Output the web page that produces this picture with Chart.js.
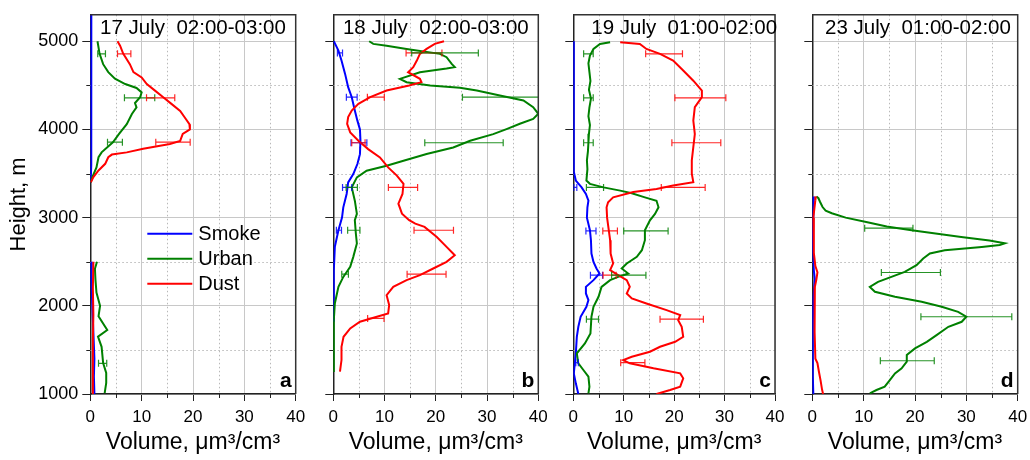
<!DOCTYPE html>
<html>
<head>
<meta charset="utf-8">
<script src="https://cdn.jsdelivr.net/npm/chart.js@4.4.0/dist/chart.umd.min.js"></script>
<style>
  body { margin: 0; background: #fff; width: 1030px; height: 460px; position: relative; overflow: hidden; }
  canvas { position: absolute; top: 0; }
</style>
</head>
<body>
<canvas id="pa" width="314" height="460" style="left:0px"></canvas>
<canvas id="pb" width="254" height="460" style="left:300px"></canvas>
<canvas id="pc" width="249" height="460" style="left:545px"></canvas>
<canvas id="pd" width="249" height="460" style="left:785px"></canvas>
<script>
const seriesNames = ['Smoke', 'Urban', 'Dust'];
const panelTitles = ['17 July  02:00-03:00', '18 July  02:00-03:00', '19 July  01:00-02:00', '23 July  01:00-02:00'];
const panelLetters = ['a', 'b', 'c', 'd'];
const xTickValues = [0, 5, 10, 15, 20, 25, 30, 35, 40];
const xTickLabels = [0, 10, 20, 30, 40];
const yTickValues = [1000, 1500, 2000, 2500, 3000, 3500, 4000, 4500, 5000];
const yTickLabels = [1000, 2000, 3000, 4000, 5000];

// ---- panel a : 17 July (null = gap in the profile)
const hSmokeA = [5300, 5000, 4500, 4000, 3600, 3450, 3400, null, 2500, 2300, 2000, 1700, 1400, 1200, 1000];
const vSmokeA = [0.2, 0.2, 0.2, 0.2, 0.15, 0.1, 0.0, null, 0.3, 0.2, 0.4, 0.6, 0.8, 0.7, 0.8];
const hUrbanA = [5000, 4860, 4740, 4650, 4575, 4515, 4470, 4420, 4365, 4300, 4250, 4175, 4060, 3950, 3855, 3740, 3685, 3570, 3460, 3400, null,
                 2500, 2420, 2300, 2150, 2000, 1880, 1725, 1650, 1535, 1350, 1240, 1125, 1010];
const vUrbanA = [1.4, 1.8, 2.5, 3.5, 4.8, 6.8, 9.0, 10.0, 9.7, 8.7, 9.0, 8.1, 7.1, 5.6, 4.4, 2.2, 1.6, 1.2, 0.4, 0.1, null,
                 1.3, 0.9, 1.0, 1.2, 1.9, 1.6, 3.3, 1.5, 2.2, 2.5, 3.1, 3.1, 2.8];
const hDustA = [5000, 4950, 4860, 4740, 4650, 4590, 4515, 4440, 4365, 4290, 4210, 4135, 4060, 4000, 3950, 3870, 3835, 3780, 3740, 3715, 3685, 3610, 3535, 3460, 3400, null,
                2500, 2200, 1900, 1600, 1300, 1000];
const vDustA = [5.3, 5.8, 6.4, 7.7, 8.4, 10.0, 11.0, 12.6, 14.2, 15.8, 17.5, 18.4, 19.3, 19.4, 18.0, 17.5, 15.5, 10.3, 7.1, 4.2, 3.5, 2.9, 1.6, 0.6, 0.1, null,
                0.6, 0.5, 0.6, 0.5, 0.5, 0.5];
// error bars: [series, height, centre, half width]
const errA = [['Urban', 4857, 2.2, 0.75], ['Dust', 4857, 6.6, 1.3], ['Urban', 4358, 9.6, 2.95], ['Dust', 4358, 13.7, 2.75],
              ['Urban', 3856, 4.8, 1.45], ['Dust', 3856, 16.1, 3.35], ['Urban', 1348, 2.4, 0.8]];

// ---- panel b : 18 July
const hSmokeB = [5000, 4894, 4781, 4630, 4479, 4366, 4215, 4100, 4000, 3872, 3720, 3608, 3494, 3400, 3268, 3117, 3000, 2857, 2668, 2404, 2100, 1820];
const vSmokeB = [0.1, 1.0, 1.6, 2.3, 2.9, 3.6, 4.2, 4.7, 5.2, 5.3, 5.2, 4.7, 3.9, 2.9, 2.6, 1.95, 1.7, 1.0, 0.3, 0.1, 0.1, 0.1];
const hUrbanB = [5000, 4970, 4950, 4913, 4857, 4819, 4743, 4706, 4690, 4649, 4574, 4536, 4498, 4472, 4442, 4385, 4328, 4253, 4177, 4120, 4064, 4004,
                 3947, 3872, 3796, 3721, 3645, 3589, 3532, 3457, 3343, 3192, 3042, 2971, 2820, 2707, 2555, 2442, 2328, 2215, 2027, 1838, 1500, 1250];
const vUrbanB = [7.0, 7.8, 10.4, 14.3, 20.8, 22.1, 23.1, 23.7, 22.1, 16.9, 13.0, 14.3, 18.9, 24.7, 28.0, 32.5, 37.1, 39.0, 40.0, 39.0, 36.4, 33.8,
                 31.2, 26.7, 23.4, 18.2, 13.7, 10.4, 6.5, 4.6, 3.6, 4.2, 4.6, 4.2, 4.4, 4.6, 3.9, 3.3, 1.95, 1.0, 0.3, 0.1, 0.1, 0.1];
const hDustB = [5000, 4970, 4913, 4857, 4781, 4706, 4649, 4574, 4536, 4498, 4442, 4366, 4290, 4215, 4140, 4064, 3966, 3872, 3777, 3683, 3570, 3477,
                3383, 3268, 3158, 3045, 2971, 2932, 2895, 2781, 2668, 2574, 2498, 2423, 2348, 2291, 2215, 2121, 2008, 1914, 1876, 1819, 1744, 1649, 1536, 1385, 1253];
const vDustB = [21.6, 19.8, 18.2, 16.9, 16.3, 15.6, 14.6, 16.9, 17.2, 14.8, 10.4, 7.2, 4.9, 3.6, 2.9, 2.7, 3.3, 4.9, 6.8, 9.1, 10.7, 12.4,
                13.7, 13.5, 12.7, 13.4, 14.8, 16.0, 17.8, 20.2, 22.1, 23.7, 22.1, 19.5, 16.9, 14.3, 11.7, 10.4, 10.9, 10.7, 8.5, 5.2, 3.3, 2.0, 1.6, 1.6, 1.3];
const errB = [['Smoke', 4868, 1.3, 0.5], ['Dust', 4868, 17.7, 3.5], ['Urban', 4868, 21.8, 6.5],
              ['Smoke', 4366, 3.6, 1.05], ['Dust', 4366, 8.3, 1.65], ['Urban', 4366, 35.0, 9.8],
              ['Smoke', 3849, 5.0, 1.55], ['Dust', 3849, 4.9, 1.3], ['Urban', 3849, 25.5, 7.65],
              ['Smoke', 3343, 2.7, 0.9], ['Urban', 3343, 3.6, 1.1], ['Dust', 3343, 13.6, 2.85],
              ['Smoke', 2857, 1.1, 0.5], ['Urban', 2857, 4.0, 1.2], ['Dust', 2857, 19.6, 3.85],
              ['Urban', 2359, 2.3, 0.65], ['Dust', 2359, 18.2, 3.8], ['Dust', 1857, 8.3, 1.6]];

// ---- panel c : 19 July
const hSmokeC = [5000, 4500, 4000, 3600, 3520, 3420, 3343, 3268, 3192, 3117, 3000, 2857, 2744, 2593, 2498, 2423, 2366, 2291, 2215, 2140, 2065, 1989, 1876, 1762, 1649, 1461, 1348, 1234, 1121, 1000];
const vSmokeC = [0.1, 0.1, 0.1, 0.1, 0.1, 0.5, 1.65, 2.5, 3.0, 2.8, 2.7, 3.3, 3.5, 3.6, 4.0, 4.6, 5.2, 4.0, 2.5, 2.5, 3.0, 2.6, 1.45, 1.0, 0.7, 0.5, 0.3, 0.1, 0.5, 1.0];
const hUrbanC = [4989, 4970, 4913, 4838, 4750, 4650, 4550, 4450, 4350, 4250, 4150, 4050, 3950, 3850, 3750, 3650, 3550, 3420, 3383, 3343, 3306, 3276, 3230, 3192,
                 3117, 3042, 2970, 2857, 2744, 2631, 2555, 2480, 2423, 2366, 2328, 2291, 2215, 2102, 1989, 1876, 1687, 1574, 1461, 1348, 1272, 1196, 1083, 1008];
const vUrbanC = [7.3, 5.3, 4.0, 3.3, 3.0, 3.2, 3.4, 3.1, 3.5, 3.2, 3.0, 3.3, 3.1, 3.0, 2.9, 2.7, 2.8, 2.6, 3.3, 6.0, 9.3, 11.6, 14.2, 16.5,
                 16.9, 16.2, 15.2, 14.2, 14.2, 13.6, 12.6, 10.6, 9.6, 10.9, 8.9, 7.3, 5.6, 5.0, 4.0, 3.6, 3.4, 2.3, 0.7, 1.0, 2.0, 3.0, 3.2, 3.0];
const hDustC = [4989, 4970, 4913, 4857, 4781, 4668, 4553, 4440, 4366, 4253, 4100, 3947, 3800, 3649, 3498, 3402, 3364, 3325, 3290, 3230, 3175, 3117, 3000, 2744, 2593,
                2480, 2404, 2348, 2291, 2215, 2140, 2083, 2027, 1951, 1895, 1838, 1762, 1649, 1592, 1536, 1479, 1423, 1385, 1348, 1291, 1234, 1178, 1083, 1045, 1000];
const vDustC = [9.3, 13.2, 14.5, 17.2, 19.8, 21.8, 23.8, 25.5, 25.5, 24.1, 23.8, 24.1, 23.8, 23.5, 23.5, 23.8, 19.8, 16.5, 11.9, 7.9, 6.9, 6.6, 6.7, 7.3, 7.4,
                7.9, 7.3, 8.9, 10.6, 11.2, 10.6, 11.6, 14.5, 18.5, 21.2, 20.8, 21.5, 21.8, 20.2, 17.2, 15.2, 11.6, 9.9, 11.2, 15.9, 21.2, 21.8, 21.2, 19.2, 16.5];
const errC = [['Urban', 4857, 3.0, 0.95], ['Dust', 4857, 18.0, 3.65], ['Urban', 4358, 3.0, 0.95], ['Dust', 4358, 25.2, 5.05],
              ['Urban', 3849, 3.0, 0.95], ['Dust', 3849, 24.4, 4.85], ['Smoke', 3343, 0.4, 0.3], ['Urban', 3343, 4.3, 1.7], ['Dust', 3343, 21.8, 4.35],
              ['Smoke', 2849, 3.5, 1.0], ['Dust', 2849, 7.3, 1.45], ['Urban', 2849, 14.4, 4.4],
              ['Smoke', 2348, 4.6, 1.2], ['Dust', 2348, 7.2, 1.3], ['Urban', 2348, 11.0, 3.4],
              ['Urban', 1849, 3.8, 1.2], ['Dust', 1849, 21.5, 4.3], ['Smoke', 1355, 0.75, 0.25], ['Dust', 1355, 11.8, 2.4]];

// ---- panel d : 23 July
const hSmokeD = [3240, 3000, 2700, 2400, 2300, 2100, 1800, 1500, 1200, 1000];
const vSmokeD = [0.3, 0.2, 0.1, 0.3, 0.5, 0.2, 0.1, 0.1, 0.1, 0.2];
const hUrbanD = [3240, 3220, 3180, 3120, 3080, 3050, 3000, 2950, 2900, 2860, 2820, 2780, 2740, 2710, 2690, 2668, 2631, 2593, 2537, 2461, 2385, 2328,
                 2272, 2215, 2159, 2102, 2045, 1989, 1932, 1876, 1819, 1762, 1668, 1592, 1517, 1442, 1366, 1291, 1234, 1158, 1083, 1045, 1008];
const vUrbanD = [0.8, 1.2, 1.5, 2.0, 2.6, 3.8, 6.5, 10.5, 14.5, 19.0, 24.0, 29.0, 34.5, 37.5, 36.5, 33.0, 25.8, 22.9, 21.6, 20.3, 18.0, 15.4,
                 12.8, 11.2, 12.2, 16.1, 21.3, 25.2, 28.4, 30.0, 29.1, 26.5, 24.2, 22.3, 20.0, 18.4, 18.4, 17.4, 16.1, 15.1, 14.1, 12.5, 11.2];
const hDustD = [3240, 3200, 3100, 3000, 2800, 2600, 2450, 2380, 2300, 2215, 2000, 1700, 1400, 1350, 1250, 1158, 1050, 1000];
const vDustD = [0.7, 0.6, 0.4, 0.2, 0.3, 0.3, 0.6, 1.0, 0.8, 0.5, 0.4, 0.5, 0.6, 1.0, 1.3, 1.6, 1.9, 2.1];
const errD = [['Urban', 2880, 14.9, 4.7], ['Urban', 2378, 19.2, 5.75], ['Urban', 1876, 30.0, 8.85], ['Urban', 1377, 18.5, 5.25]];

const colors = { Smoke: '#0000ff', Urban: '#008000', Dust: '#ff0000' };
const FONT = "'Liberation Sans', Arial, sans-serif";

const panels = [
  { id: 'pa', yw: 90.3, pr: 18.3, shift: 0, legend: true, yLabels: true,
    lines: { Smoke: [hSmokeA, vSmokeA], Urban: [hUrbanA, vUrbanA], Dust: [hDustA, vDustA] }, err: errA },
  { id: 'pb', yw: 33.3, pr: 15.7, shift: 0,
    lines: { Smoke: [hSmokeB, vSmokeB], Urban: [hUrbanB, vUrbanB], Dust: [hDustB, vDustB] }, err: errB },
  { id: 'pc', yw: 28.3, pr: 19, shift: 10,
    lines: { Smoke: [hSmokeC, vSmokeC], Urban: [hUrbanC, vUrbanC], Dust: [hDustC, vDustC] }, err: errC },
  { id: 'pd', yw: 27.3, pr: 16.3, shift: 3,
    lines: { Smoke: [hSmokeD, vSmokeD], Urban: [hUrbanD, vUrbanD], Dust: [hDustD, vDustD] }, err: errD },
];

function makeDecor(p, idx) {
  return {
    id: 'decor' + idx,
    beforeDatasetsDraw(chart) {
      const { ctx, chartArea: ca, scales: { x, y } } = chart;
      ctx.save();
      // dotted minor grid
      ctx.strokeStyle = '#b8b8b8';
      ctx.lineWidth = 1;
      ctx.setLineDash([1.5, 2.5]);
      x.ticks.forEach(t => {
        if (t.value % 10 === 0) return;
        const px = Math.round(x.getPixelForValue(t.value)) + 0.5;
        ctx.beginPath(); ctx.moveTo(px, ca.top); ctx.lineTo(px, ca.bottom); ctx.stroke();
      });
      y.ticks.forEach(t => {
        if (t.value % 1000 === 0) return;
        const py = Math.round(y.getPixelForValue(t.value)) + 0.5;
        ctx.beginPath(); ctx.moveTo(ca.left, py); ctx.lineTo(ca.right, py); ctx.stroke();
      });
      // short minor ticks
      ctx.setLineDash([]);
      ctx.strokeStyle = '#222';
      x.ticks.forEach(t => {
        if (t.value % 10 === 0) return;
        const px = Math.round(x.getPixelForValue(t.value)) + 0.5;
        ctx.beginPath(); ctx.moveTo(px, ca.bottom); ctx.lineTo(px, ca.bottom + 4); ctx.stroke();
      });
      y.ticks.forEach(t => {
        if (t.value % 1000 === 0) return;
        const py = Math.round(y.getPixelForValue(t.value)) + 0.5;
        ctx.beginPath(); ctx.moveTo(ca.left - 4, py); ctx.lineTo(ca.left, py); ctx.stroke();
      });
      ctx.restore();
    },
    afterDatasetsDraw(chart) {
      const { ctx, chartArea: ca, scales: { x, y } } = chart;
      ctx.save();
      ctx.beginPath();
      ctx.rect(ca.left, ca.top, ca.right - ca.left, ca.bottom - ca.top);
      ctx.clip();
      ctx.lineWidth = 1.2;
      p.err.forEach(([s, h, c, hw]) => {
        const py = y.getPixelForValue(h);
        const x0 = x.getPixelForValue(c - hw), x1 = x.getPixelForValue(c + hw);
        ctx.strokeStyle = colors[s];
        ctx.globalAlpha = 0.85;
        ctx.beginPath();
        ctx.moveTo(x0, py); ctx.lineTo(x1, py);
        ctx.moveTo(x0, py - 3.5); ctx.lineTo(x0, py + 3.5);
        ctx.moveTo(x1, py - 3.5); ctx.lineTo(x1, py + 3.5);
        ctx.stroke();
      });
      ctx.restore();

      ctx.save();
      // frame top/right
      ctx.strokeStyle = '#333';
      ctx.lineWidth = 1.5;
      ctx.beginPath();
      ctx.moveTo(ca.left, ca.top); ctx.lineTo(ca.right, ca.top); ctx.lineTo(ca.right, ca.bottom);
      ctx.stroke();
      // date / time label
      ctx.fillStyle = '#000';
      ctx.font = '20.5px ' + FONT;
      ctx.textAlign = 'center';
      ctx.textBaseline = 'alphabetic';
      ctx.fillText(panelTitles[idx], (ca.left + ca.right) / 2 + p.shift, ca.top + 19);
      // panel letter
      ctx.font = 'bold 21px ' + FONT;
      ctx.textAlign = 'right';
      ctx.fillText(panelLetters[idx], ca.right - 4, ca.bottom - 7);
      // legend
      if (p.legend) {
        ctx.font = '20px ' + FONT;
        ctx.textAlign = 'left';
        ctx.textBaseline = 'middle';
        ctx.lineWidth = 2;
        seriesNames.forEach((s, i) => {
          const ly = ca.top + 219 + i * 25;
          ctx.strokeStyle = colors[s];
          ctx.beginPath(); ctx.moveTo(ca.left + 57, ly); ctx.lineTo(ca.left + 102, ly); ctx.stroke();
          ctx.fillText(s, ca.left + 108, ly + 1);
        });
      }
      ctx.restore();
    }
  };
}

panels.forEach((p, idx) => {
  const datasets = seriesNames.map((s, i) => {
    const [hs, vs] = p.lines[s];
    return {
      label: s,
      data: hs.map((h, k) => ({ x: vs[k], y: h })),
      borderColor: colors[s],
      backgroundColor: colors[s],
      borderWidth: 2,
      pointRadius: 0,
      showLine: true,
      order: 3 - i,
    };
  });
  new Chart(document.getElementById(p.id), {
    type: 'scatter',
    data: { datasets },
    options: {
      responsive: false,
      animation: false,
      events: [],
      layout: { padding: { left: 0, right: p.pr, top: 14, bottom: 0 } },
      plugins: { legend: { display: false }, tooltip: { enabled: false } },
      scales: {
        x: {
          type: 'linear', min: 0, max: 40,
          afterFit: s => { s.height = 66; },
          afterBuildTicks: s => { s.ticks = xTickValues.map(v => ({ value: v })); },
          ticks: {
            autoSkip: false, maxRotation: 0, padding: 6,
            font: { family: FONT, size: 17 }, color: '#000',
            callback: v => xTickLabels.includes(v) ? String(v) : '',
          },
          grid: {
            color: c => (c.tick && c.tick.value % 10 === 0) ? '#c8c8c8' : 'rgba(0,0,0,0)',
            tickColor: c => (c.tick && c.tick.value % 10 === 0) ? '#222' : 'rgba(0,0,0,0)',
            tickLength: 7, tickWidth: 1,
          },
          border: { color: '#222', width: 1.5 },
          title: {
            display: true, text: 'Volume, \u03bcm\u00b3/cm\u00b3', color: '#000',
            font: { family: FONT, size: 23 }, padding: { top: 0, bottom: 4 },
          },
        },
        y: {
          type: 'linear', min: 1000, max: 5300,
          afterFit: s => { s.width = p.yw; },
          afterBuildTicks: s => { s.ticks = yTickValues.map(v => ({ value: v })); },
          ticks: {
            autoSkip: false, padding: 4,
            font: { family: FONT, size: 18 }, color: '#000',
            callback: v => (p.yLabels && yTickLabels.includes(v)) ? String(v) : '',
          },
          grid: {
            color: c => (c.tick && c.tick.value % 1000 === 0) ? '#c8c8c8' : 'rgba(0,0,0,0)',
            tickColor: c => (c.tick && c.tick.value % 1000 === 0) ? '#222' : 'rgba(0,0,0,0)',
            tickLength: 8, tickWidth: 1,
          },
          border: { color: '#222', width: 1.5 },
          title: {
            display: !!p.yLabels, text: 'Height, m', color: '#000',
            font: { family: FONT, size: 22 }, padding: { top: 6, bottom: 0 },
          },
        },
      },
    },
    plugins: [makeDecor(p, idx)],
  });
});
</script>
</body>
</html>
